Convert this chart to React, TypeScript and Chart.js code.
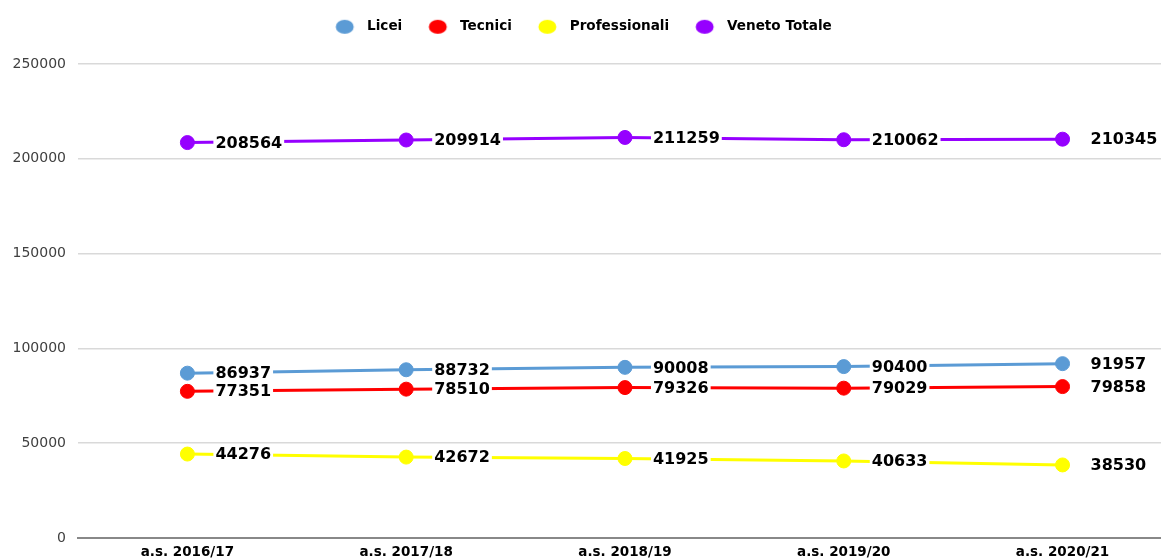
import React, { useEffect, useRef } from "react";
import { Chart, registerables } from "chart.js";

Chart.register(...registerables);

const categories = ["a.s. 2016/17", "a.s. 2017/18", "a.s. 2018/19", "a.s. 2019/20", "a.s. 2020/21"];
const licei = [86937, 88732, 90008, 90400, 91957];
const tecnici = [77351, 78510, 79326, 79029, 79858];
const professionali = [44276, 42672, 41925, 40633, 38530];
const venetoTotale = [208564, 209914, 211259, 210062, 210345];

const seriesNames = ["Licei", "Tecnici", "Professionali", "Veneto Totale"];
const seriesValues = [licei, tecnici, professionali, venetoTotale];
const seriesColors = ["#5b9bd5", "#ff0000", "#ffff00", "#9600ff"];

const yTicks = [0, 50000, 100000, 150000, 200000, 250000];

const FONT = "'DejaVu Sans', sans-serif";

function makeDot(color: string) {
  const c = document.createElement("canvas");
  c.width = 31;
  c.height = 16;
  const g = c.getContext("2d")!;
  g.fillStyle = color;
  g.beginPath();
  g.ellipse(15.5, 8, 9, 7, 0, 0, Math.PI * 2);
  g.fill();
  return c;
}

const legendSpacer = {
  id: "legendSpacer",
  beforeInit(chart: any) {
    const orig = chart.legend.fit;
    chart.legend.fit = function () {
      orig.call(this);
      this.height = 64;
    };
  },
};

const dataLabels = {
  id: "dataLabels",
  afterDatasetsDraw(chart: any) {
    const ctx = chart.ctx;
    ctx.save();
    ctx.font = `bold 16px ${FONT}`;
    ctx.textBaseline = "middle";
    ctx.textAlign = "left";
    chart.data.datasets.forEach((ds: any, di: number) => {
      const meta = chart.getDatasetMeta(di);
      meta.data.forEach((pt: any, i: number) => {
        const text = String(seriesValues[di][i]);
        const w = ctx.measureText(text).width;
        const x = pt.x + 28;
        const y = pt.y;
        ctx.fillStyle = "#ffffff";
        ctx.fillRect(x - 2, y - 9, w + 4, 18);
        ctx.fillStyle = "#000000";
        ctx.fillText(text, x, y + 1);
      });
    });
    ctx.restore();
  },
};

export default function App() {
  const ref = useRef<HTMLCanvasElement | null>(null);
  useEffect(() => {
    if (!ref.current) return;
    const dots = seriesColors.map(makeDot);
    const chart = new Chart(ref.current, {
      type: "line",
      data: {
        datasets: seriesNames.map((name, si) => ({
          label: name,
          data: seriesValues[si].map((v, i) => ({ x: i, y: v })),
          borderColor: seriesColors[si],
          backgroundColor: seriesColors[si],
          pointBackgroundColor: seriesColors[si],
          pointBorderColor: seriesColors[si],
          borderWidth: 3,
          pointRadius: 7,
          pointBorderWidth: 1,
          pointStyle: "circle",
          tension: 0,
          fill: false,
        })),
      },
      options: {
        animation: false,
        responsive: false,
        devicePixelRatio: 1,
        layout: { padding: 0, autoPadding: false },
        plugins: {
          tooltip: { enabled: false },
          legend: {
            position: "top",
            align: "center",
            labels: {
              usePointStyle: true,
              pointStyleWidth: 31,
              padding: 20,
              color: "#000000",
              font: { family: FONT, size: 13.6, weight: "bold" },
              generateLabels: (c: any) => {
                const base = Chart.defaults.plugins.legend.labels.generateLabels(c);
                return base.map((it: any, i: number) => ({ ...it, pointStyle: dots[i] }));
              },
            },
          },
        },
        scales: {
          x: {
            type: "linear",
            min: -0.5,
            max: 4.45,
            afterBuildTicks: (s: any) => {
              s.ticks = categories.map((_, i) => ({ value: i }));
            },
            afterFit: (s: any) => {
              s.height = 22;
              s.paddingLeft = 0;
              s.paddingRight = 0;
            },
            grid: { display: false, drawTicks: false },
            border: { display: true, color: "#888888", width: 2 },
            ticks: {
              autoSkip: false,
              maxRotation: 0,
              padding: 6,
              color: "#000000",
              font: { family: FONT, size: 13.5, weight: "bold" },
              callback: (v: any) => categories[v] ?? "",
            },
          },
          y: {
            min: 0,
            max: 250000,
            afterBuildTicks: (s: any) => {
              s.ticks = yTicks.map((v) => ({ value: v }));
            },
            afterFit: (s: any) => {
              s.width = 78;
            },
            grid: { color: "#d9d9d9", lineWidth: 1.5, drawTicks: false },
            border: { display: false },
            ticks: {
              padding: 12,
              color: "#404040",
              font: { family: FONT, size: 14 },
              callback: (v: any) => String(v),
            },
          },
        },
      },
      plugins: [legendSpacer, dataLabels],
    } as any);
    return () => chart.destroy();
  }, []);
  return (
    <div style={{ position: "absolute", left: 0, top: 0, width: 1161, height: 560, background: "#fff" }}>
      <canvas ref={ref} width={1161} height={560} style={{ display: "block", width: 1161, height: 560 }} />
    </div>
  );
}
